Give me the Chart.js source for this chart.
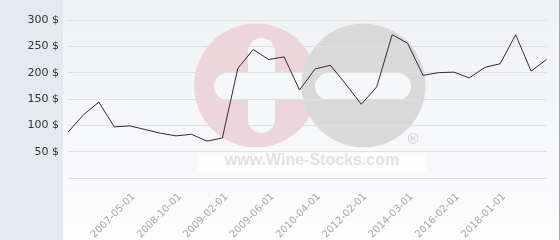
<!DOCTYPE html>
<html>
<head>
<meta charset="utf-8">
<script src="https://cdn.jsdelivr.net/npm/chart.js@4"></script>
<style>
  html, body { margin: 0; padding: 0; background: #fff; }
  #wrap { width: 560px; height: 240px; }
</style>
</head>
<body>
<div id="wrap"><canvas id="priceChart" width="560" height="240"></canvas></div>
<script>
// dates shown on the axis (one every 3 points), the rest are not readable
const dateLabels = [
    '', '', '', '', '2007-05-01', '', '', '2008-10-01', '', '', '2009-02-01',
    '', '', '2009-06-01', '', '', '2010-04-01', '', '', '2012-02-01', '', '',
    '2014-03-01', '', '', '2016-02-01', '', '', '2018-01-01', '', '', ''
];
// price in $
const prices = [
    87, 120, 144, 97, 99, 92, 85, 80, 83, 70, 76,
    208, 244, 225, 230, 167, 207, 214, 178, 140, 173,
    272, 256, 195, 200, 201, 190, 210, 217, 272, 203, 225
];
const yTicks = [0, 50, 100, 150, 200, 250, 300];

// background panels + watermark logo
const backgroundPlugin = {
    id: 'bgPanels',
    beforeDraw(chart) {
        const ctx = chart.ctx;
        const h = chart.height;
        ctx.save();
        ctx.fillStyle = '#ffffff';
        ctx.fillRect(0, 0, chart.width, h);
        ctx.fillStyle = '#e6eaee';
        ctx.fillRect(0, 0, 63, h);
        const grad = ctx.createLinearGradient(0, 0, 0, h);
        grad.addColorStop(0, '#eff1f5');
        grad.addColorStop(1, '#fdfdfe');
        ctx.fillStyle = grad;
        ctx.fillRect(63, 0, 496, h);
        ctx.fillStyle = '#a4a6aa';
        ctx.fillRect(559, 0, 1, h);

        // watermark
        function pill(x, y, w, hh) {
            const r = Math.min(w, hh) / 2;
            ctx.beginPath();
            ctx.roundRect(x, y, w, hh, r);
            ctx.fill();
        }
        ctx.fillStyle = '#ecd5db';
        ctx.beginPath();
        ctx.arc(256, 85.5, 62, 0, Math.PI * 2);
        ctx.fill();
        ctx.fillStyle = '#f6f7f9';
        pill(214, 73, 100, 27);
        pill(248, 38, 27, 95);
        ctx.fillStyle = '#d9d9da';
        ctx.beginPath();
        ctx.arc(363.5, 85.5, 62, 0, Math.PI * 2);
        ctx.fill();
        ctx.fillStyle = '#f6f7f9';
        pill(315, 73, 96, 27);

        ctx.fillStyle = 'rgba(255,255,255,0.6)';
        ctx.fillRect(197, 153, 230, 20);
        ctx.fillStyle = '#e2e2e4';
        ctx.font = 'bold 16px "Liberation Sans", Arial, sans-serif';
        ctx.textAlign = 'center';
        ctx.textBaseline = 'middle';
        ctx.fillText('www.Wine-Stocks.com', 312, 161);
        ctx.fillStyle = '#d2d2d4';
        ctx.font = '14px "DejaVu Sans", sans-serif';
        ctx.fillText('\u00AE', 413, 140);
        ctx.restore();
    }
};

const ctx = document.getElementById('priceChart').getContext('2d');
new Chart(ctx, {
    type: 'line',
    data: {
        labels: dateLabels,
        datasets: [{
            data: prices,
            borderColor: '#3a2830',
            borderWidth: 1,
            pointRadius: 0,
            tension: 0,
            fill: false
        }]
    },
    options: {
        responsive: false,
        animation: false,
        layout: { padding: { top: 20, right: 5, left: 0, bottom: 0 } },
        plugins: {
            legend: { display: false },
            tooltip: { enabled: false }
        },
        scales: {
            x: {
                offset: false,
                border: { display: false },
                grid: { display: false },
                afterFit(scale) { scale.height = 62; },
                ticks: {
                    autoSkip: false,
                    maxRotation: 45,
                    minRotation: 45,
                    color: '#a6a6a6',
                    font: { family: 'DejaVu Sans', size: 10 },
                    padding: 5,
                    labelOffset: 4
                }
            },
            y: {
                min: 0,
                max: 300,
                border: { display: false },
                grid: { color: '#dfe0e4', drawTicks: false },
                afterFit(scale) { scale.width = 68; },
                afterBuildTicks(scale) {
                    scale.ticks = yTicks.map(v => ({ value: v }));
                },
                ticks: {
                    color: '#333333',
                    padding: 9,
                    font: { family: 'DejaVu Sans', size: 11 },
                    callback: v => v === 0 ? '' : v + ' $'
                }
            }
        }
    },
    plugins: [backgroundPlugin]
});
</script>
</body>
</html>
